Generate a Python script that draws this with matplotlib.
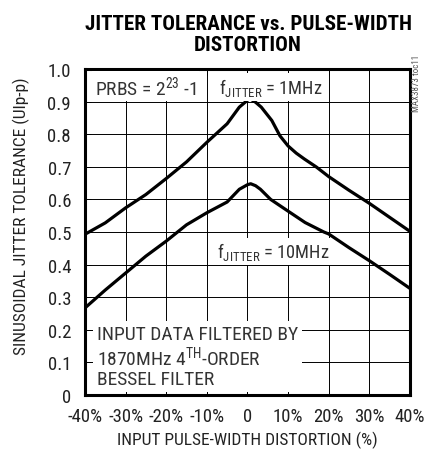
import matplotlib
matplotlib.use("Agg")
import matplotlib.pyplot as plt

# pulse-width distortion (%) and jitter tolerance (UIp-p)
x_1mhz = [-40, -35, -30, -25, -20, -15, -10, -5, -2, 0, 0.6, 2, 3.4, 6, 8, 10, 12, 14, 17, 20, 25, 30, 35, 40]
y_1mhz = [0.493, 0.528, 0.574, 0.615, 0.664, 0.715, 0.775, 0.832, 0.883, 0.904, 0.909, 0.898, 0.883, 0.842,
          0.795, 0.764, 0.742, 0.724, 0.699, 0.670, 0.628, 0.588, 0.545, 0.502]

x_10mhz = [-40, -35, -30, -25, -20, -15, -10, -5, -2, 0, 0.8, 2, 3.2, 5.7, 10, 14.2, 18.8, 20, 25, 30, 35, 40]
y_10mhz = [0.267, 0.322, 0.374, 0.426, 0.472, 0.522, 0.559, 0.592, 0.631, 0.645, 0.648, 0.642, 0.631, 0.600,
           0.564, 0.529, 0.500, 0.494, 0.452, 0.412, 0.370, 0.327]

xticks = [-40, -30, -20, -10, 0, 10, 20, 30, 40]
xtick_labels = ['-40%', '-30%', '-20%', '-10%', '0', '10%', '20%', '30%', '40%']
yticks = [0, 0.1, 0.2, 0.3, 0.4, 0.5, 0.6, 0.7, 0.8, 0.9, 1.0]
ytick_labels = ['0', '0.1', '0.2', '0.3', '0.4', '0.5', '0.6', '0.7', '0.8', '0.9', '1.0']

FONT = 'Roboto Condensed'
plt.rcParams['font.family'] = [FONT, 'DejaVu Sans']
plt.rcParams['mathtext.fontset'] = 'custom'
plt.rcParams['mathtext.rm'] = FONT
plt.rcParams['mathtext.it'] = FONT + ':italic'
plt.rcParams['mathtext.bf'] = FONT + ':bold'

fig = plt.figure(figsize=(4.27, 4.56), dpi=100)
ax = fig.add_axes([0.199, 0.1316, 0.761, 0.7149])

ax.plot(x_1mhz, y_1mhz, color='black', lw=2.3, solid_joinstyle='round', zorder=4)
ax.plot(x_10mhz, y_10mhz, color='black', lw=2.3, solid_joinstyle='round', zorder=4)

ax.set_xlim(-40, 40)
ax.set_ylim(0, 1.0)
ax.set_xticks(xticks)
ax.set_xticklabels(xtick_labels)
ax.set_yticks(yticks)
ax.set_yticklabels(ytick_labels)
ax.grid(True, color='black', lw=0.7)
ax.tick_params(direction='in', length=4, width=0.7, labelsize=13.5, top=True, right=True, colors='black')
ax.tick_params(axis='y', pad=10)
ax.tick_params(axis='x', pad=9)
for lbl in ax.get_xticklabels() + ax.get_yticklabels():
    lbl.set_color('#222222')
for sp in ax.spines.values():
    sp.set_linewidth(2.2)

ax.set_xlabel('INPUT PULSE-WIDTH DISTORTION (%)', fontsize=12.5, labelpad=4, color='#222222')
ax.set_ylabel('SINUSOIDAL JITTER TOLERANCE (UIp-p)', fontsize=12.5, color='#222222')
ax.yaxis.set_label_coords(-0.168, 0.551)

fig.text(0.581, 0.968, 'JITTER TOLERANCE vs. PULSE-WIDTH\nDISTORTION', ha='center', va='top',
         fontsize=15.2, fontweight='black', linespacing=1.13)

box = dict(facecolor='white', edgecolor='none', pad=2)
tc = '#333333'
ax.text(0.031, 0.923, 'PRBS = 2$^{23}$ -1', transform=ax.transAxes, fontsize=14, color=tc,
        bbox=box, zorder=5)
ax.text(0.411, 0.927, 'f$_{\\mathrm{JITTER}}$ = 1MHz', transform=ax.transAxes, fontsize=13.2, color=tc,
        bbox=box, zorder=5)
ax.text(0.405, 0.422, 'f$_{\\mathrm{JITTER}}$ = 10MHz', transform=ax.transAxes, fontsize=13.2, color=tc,
        bbox=box, zorder=5)
ax.text(0.037, 0.215, 'INPUT DATA FILTERED BY\n1870MHz 4$^{\\mathrm{TH}}$-ORDER\nBESSEL FILTER',
        transform=ax.transAxes, fontsize=14, color=tc, va='top', linespacing=1.08,
        bbox=dict(facecolor='white', edgecolor='none', pad=3), zorder=5)

fig.text(0.975, 0.816, 'MAX3873 toc11', rotation=90, fontsize=6.5, color='#555555',
         ha='center', va='center')

fig.savefig('out.png', dpi=100)
